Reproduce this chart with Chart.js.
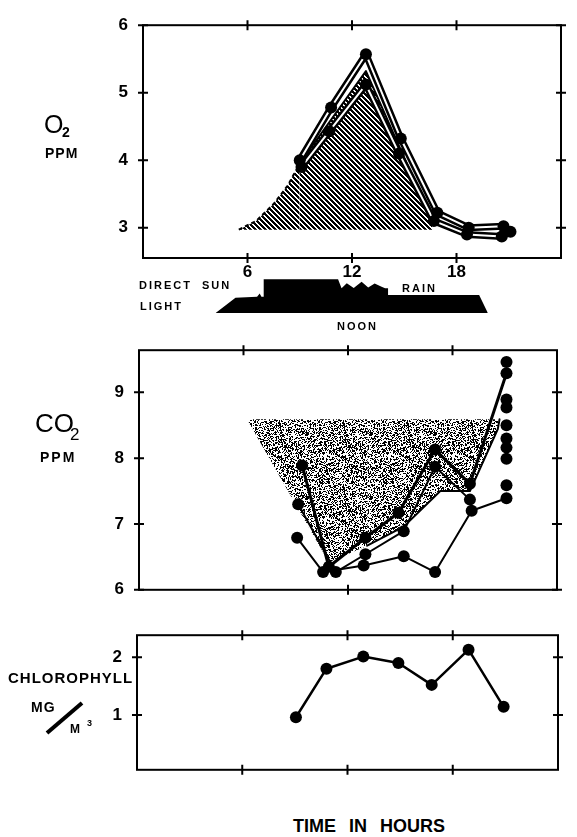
<!DOCTYPE html>
<html>
<head>
<meta charset="utf-8">
<script src="https://cdn.jsdelivr.net/npm/chart.js@4.4.0/dist/chart.umd.min.js"></script>
<style>
  body { margin: 0; background: #fff; width: 577px; height: 837px; position: relative; overflow: hidden;
         font-family: "Liberation Sans", Arial, sans-serif; color: #000; }
  canvas { position: absolute; left: 0; }
  .lbl { position: absolute; line-height: 1; white-space: nowrap; font-weight: bold; }
  .thin { font-weight: normal; }
</style>
</head>
<body>
<canvas id="o2Chart" width="577" height="290" style="top:0"></canvas>
<canvas id="sunChart" width="577" height="50" style="top:270px"></canvas>
<canvas id="co2Chart" width="577" height="290" style="top:325px"></canvas>
<canvas id="chlChart" width="577" height="185" style="top:610px"></canvas>

<!-- axis titles -->
<span class="lbl thin" style="left:44px;top:112px;font-size:25px">O</span>
<span class="lbl" style="left:62px;top:125px;font-size:14px">2</span>
<span class="lbl" style="left:45px;top:146px;font-size:14px;letter-spacing:1px">PPM</span>

<span class="lbl" style="left:139px;top:280px;font-size:11px;letter-spacing:2px;word-spacing:5px">DIRECT SUN</span>
<span class="lbl" style="left:140px;top:301px;font-size:11px;letter-spacing:2px">LIGHT</span>
<span class="lbl" style="left:402px;top:283px;font-size:11px;letter-spacing:2px">RAIN</span>
<span class="lbl" style="left:337px;top:321px;font-size:11px;letter-spacing:2px">NOON</span>

<span class="lbl thin" style="left:35px;top:410px;font-size:26px">CO</span>
<span class="lbl thin" style="left:70px;top:426px;font-size:17px">2</span>
<span class="lbl" style="left:40px;top:450px;font-size:14px;letter-spacing:2px">PPM</span>

<span class="lbl" style="left:8px;top:670px;font-size:15px;letter-spacing:1px">CHLOROPHYLL</span>
<span class="lbl" style="left:31px;top:700px;font-size:14px;letter-spacing:1px">MG</span>
<svg style="position:absolute;left:0;top:0" width="120" height="760"><line x1="47" y1="733" x2="82" y2="703" stroke="#000" stroke-width="4"/></svg>
<span class="lbl" style="left:70px;top:723px;font-size:12px">M</span>
<span class="lbl" style="left:87px;top:719px;font-size:9px">3</span>

<span class="lbl" style="left:293px;top:817px;font-size:18px;word-spacing:8px">TIME IN HOURS</span>

<script>
"use strict";

// shared x ticks (hours)
const hourTicks = [6, 12, 18];

// O2, ppm
const o2Ticks = [3, 4, 5, 6];
const o2HoursUpper = [9.0, 10.8, 12.8, 14.8, 16.9, 18.7, 20.7];
const o2Upper = [4.0, 4.78, 5.57, 4.32, 3.22, 3.0, 3.02];
const o2HoursLower = [9.1, 10.7, 12.8, 14.7, 16.7, 18.6, 20.6, 21.1];
const o2Lower = [3.9, 4.43, 5.12, 4.1, 3.1, 2.9, 2.87, 2.94];
const o2HatchHours = [5.5, 6.5, 7.5, 8.3, 9.0, 12.8, 16.6];
const o2HatchTop = [2.97, 3.1, 3.35, 3.62, 3.95, 5.32, 3.1];
const o2HatchBase = 2.97;

// direct sun light (relative)
const sunHours = [4.17, 5.31, 6.55, 6.7, 6.8, 6.93, 6.93, 11.2, 11.4, 11.7, 12.1, 12.55, 12.93, 13.3, 13.7, 13.9, 14.07, 14.07, 19.3, 19.8];
const sunLevel = [0, 0.9, 0.96, 1.15, 0.96, 0.96, 1.98, 1.98, 1.45, 1.75, 1.47, 1.84, 1.5, 1.74, 1.55, 1.45, 1.45, 1.06, 1.06, 0];

// CO2, ppm
const co2Ticks = [6, 7, 8, 9];
const co2HoursA = [9.37, 10.9, 13.0, 14.9, 17.0, 19.0, 21.1];
const co2A = [7.89, 6.35, 6.79, 7.17, 8.13, 7.61, 9.29];
const co2HoursB = [9.14, 11.3, 13.0, 15.2, 17.0, 19.0];
const co2B = [7.3, 6.27, 6.54, 6.89, 7.87, 7.37];
const co2HoursC = [9.08, 10.57, 12.9, 15.2, 17.0, 19.1, 21.1];
const co2C = [6.79, 6.27, 6.37, 6.51, 6.27, 7.2, 7.39];
const co2LateHours = [21.1, 21.1, 21.1, 21.1, 21.1, 21.1, 21.1, 21.1];
const co2Late = [9.46, 8.89, 8.77, 8.5, 8.3, 8.16, 7.99, 7.59];
const co2StippleHours = [6.2, 10.9, 13.1, 15.2, 17.3, 19.0, 20.6, 20.7];
const co2StippleEdge = [8.59, 6.42, 6.67, 6.96, 7.5, 7.5, 8.44, 8.59];
const co2StippleTop = 8.59;

// chlorophyll, mg/m3
const chlTicks = [1, 2];
const chlHours = [9.06, 10.8, 12.9, 14.9, 16.8, 18.9, 20.9];
const chlValues = [0.96, 1.8, 2.01, 1.9, 1.52, 2.13, 1.14];

const pts = (xs, ys) => xs.map((x, i) => ({ x: x, y: ys[i] }));

function hatchPattern() {
  const c = document.createElement("canvas");
  c.width = 5; c.height = 5;
  const g = c.getContext("2d");
  g.fillStyle = "#000";
  for (let i = 0; i < 5; i++) {
    for (let k = 0; k < 3; k++) g.fillRect((i + k) % 5, i, 1, 1);
  }
  return g.createPattern(c, "repeat");
}

function stipplePattern() {
  const c = document.createElement("canvas");
  c.width = 64; c.height = 64;
  const g = c.getContext("2d");
  g.fillStyle = "#000";
  for (let y = 0; y < 64; y++) {
    for (let x = 0; x < 64; x++) {
      let h = Math.imul(x * 374761393 + y * 668265263, 1274126177) >>> 0;
      h ^= h >>> 13;
      h = Math.imul(h, 1274126177) >>> 0;
      if ((h >>> 24) < 110) g.fillRect(x, y, 1, 1);
    }
  }
  return g.createPattern(c, "repeat");
}

// box with ticks crossing every side
const framePlugin = {
  id: "frame",
  afterDatasetsDraw(chart, args, opts) {
    const { ctx, chartArea: a, scales } = chart;
    ctx.save();
    ctx.strokeStyle = "#000";
    ctx.lineWidth = 2;
    ctx.strokeRect(a.left, a.top, a.right - a.left, a.bottom - a.top);
    ctx.beginPath();
    hourTicks.forEach(h => {
      const x = scales.x.getPixelForValue(h);
      ctx.moveTo(x, a.top - 5); ctx.lineTo(x, a.top + 5);
      ctx.moveTo(x, a.bottom - 5); ctx.lineTo(x, a.bottom + 5);
    });
    opts.yTicks.forEach(v => {
      const y = scales.y.getPixelForValue(v);
      ctx.moveTo(a.left - 5, y); ctx.lineTo(a.left + 5, y);
      ctx.moveTo(a.right - 5, y); ctx.lineTo(a.right + 5, y);
    });
    ctx.stroke();
    ctx.restore();
  }
};

const tickFont = { family: "Liberation Sans", weight: "bold", size: 17 };

function panelOptions(cfg) {
  return {
    responsive: false,
    animation: false,
    layout: { padding: cfg.padding },
    plugins: { legend: { display: false }, tooltip: { enabled: false }, frame: { yTicks: cfg.yTicks } },
    scales: {
      x: {
        type: "linear", min: 0, max: 24, display: cfg.showX,
        grid: { display: false, drawTicks: false }, border: { display: false },
        afterBuildTicks: s => { s.ticks = hourTicks.map(v => ({ value: v })); },
        afterFit: s => { s.height = cfg.xHeight || 0; },
        ticks: { color: "#000", font: tickFont, padding: 4, autoSkip: false, maxRotation: 0 }
      },
      y: {
        type: "linear", min: cfg.yMin, max: cfg.yMax,
        grid: { display: false, drawTicks: false }, border: { display: false },
        afterBuildTicks: s => { s.ticks = cfg.yTicks.map(v => ({ value: v })); },
        afterFit: s => { s.width = cfg.yWidth; },
        ticks: { color: "#000", font: tickFont, padding: 15 }
      }
    }
  };
}

const dots = data => ({ data: data, showLine: false, pointRadius: 6, pointBackgroundColor: "#000", pointBorderWidth: 0 });
const line = (data, color, w) => ({ data: data, showLine: true, borderColor: color, borderWidth: w, pointRadius: 0,
  borderJoinStyle: "round", borderCapStyle: "round" });

// O2 panel
const o2UpperPts = pts(o2HoursUpper, o2Upper);
const o2LowerPts = pts(o2HoursLower, o2Lower);
new Chart(document.getElementById("o2Chart"), {
  type: "scatter",
  data: {
    datasets: [
      dots(o2UpperPts),
      dots(o2LowerPts),
      line(o2UpperPts, "#fff", 2),
      line(o2UpperPts, "#000", 7),
      line(o2LowerPts, "#fff", 2),
      line(o2LowerPts, "#000", 7),
      Object.assign(line(pts(o2HatchHours, o2HatchTop), "#000", 2), {
        fill: { value: o2HatchBase },
        backgroundColor: hatchPattern(),
        borderCapStyle: "butt",
        segment: { borderDash: c => c.p1.parsed.x <= 9.0 ? [4, 3] : undefined }
      })
    ]
  },
  options: panelOptions({ padding: { top: 16, right: 16, left: 0, bottom: 0 }, showX: true, xHeight: 32,
    yMin: 2.55, yMax: 6, yTicks: o2Ticks, yWidth: 143 }),
  plugins: [framePlugin]
});

// sunlight silhouette
new Chart(document.getElementById("sunChart"), {
  type: "scatter",
  data: {
    datasets: [{
      data: pts(sunHours, sunLevel), showLine: true, pointRadius: 0, borderWidth: 0,
      fill: "origin", backgroundColor: "#000", clip: false
    }]
  },
  options: {
    responsive: false,
    animation: false,
    layout: { padding: { left: 143, right: 16, top: 9, bottom: 7 } },
    plugins: { legend: { display: false }, tooltip: { enabled: false } },
    scales: {
      x: { type: "linear", min: 0, max: 24, display: false },
      y: { type: "linear", min: 0, max: 2, display: false }
    }
  }
});

// CO2 panel
new Chart(document.getElementById("co2Chart"), {
  type: "scatter",
  data: {
    datasets: [
      dots(pts(co2HoursA, co2A)),
      dots(pts(co2HoursB, co2B)),
      dots(pts(co2HoursC, co2C)),
      dots(pts(co2LateHours, co2Late)),
      line(pts(co2HoursA, co2A), "#000", 3),
      line(pts(co2HoursB, co2B), "#000", 2),
      line(pts(co2HoursC, co2C), "#000", 2),
      Object.assign(line(pts(co2StippleHours, co2StippleEdge), "#000", 2), {
        fill: { value: co2StippleTop },
        backgroundColor: stipplePattern(),
        segment: { borderColor: c => c.p0.parsed.x < 13 ? "rgba(0,0,0,0)" : "#000" }
      })
    ]
  },
  options: panelOptions({ padding: { top: 14, right: 20, left: 0, bottom: 21 }, showX: false,
    yMin: 6, yMax: 9.64, yTicks: co2Ticks, yWidth: 139 }),
  plugins: [framePlugin]
});

// chlorophyll panel
new Chart(document.getElementById("chlChart"), {
  type: "scatter",
  data: {
    datasets: [
      dots(pts(chlHours, chlValues)),
      line(pts(chlHours, chlValues), "#000", 2.5)
    ]
  },
  options: panelOptions({ padding: { top: 12, right: 19, left: 0, bottom: 8 }, showX: false,
    yMin: 0.05, yMax: 2.38, yTicks: chlTicks, yWidth: 137 }),
  plugins: [framePlugin]
});
</script>
</body>
</html>
